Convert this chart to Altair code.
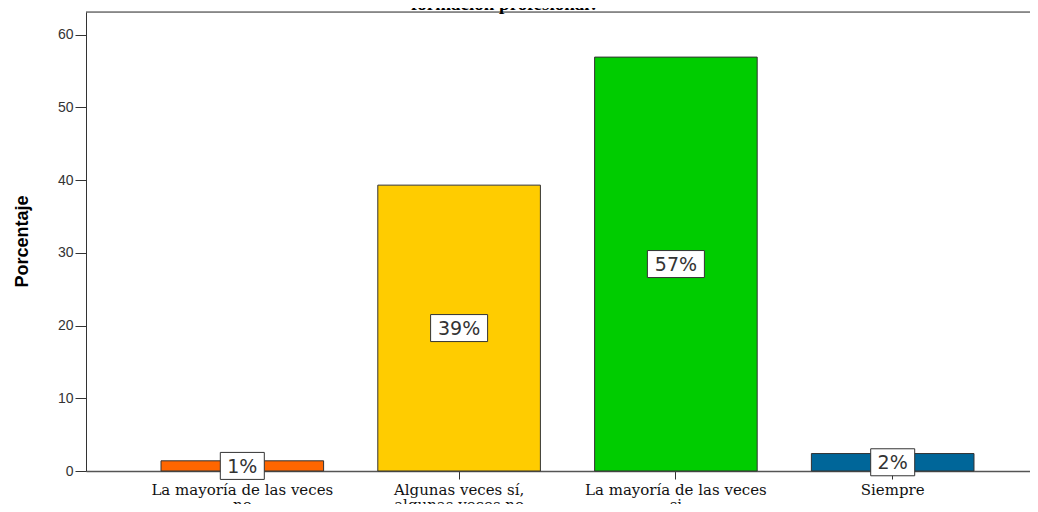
import altair as alt
import pandas as pd

categories = ["La mayoría de las veces|no", "Algunas veces sí,|algunas veces no",
              "La mayoría de las veces|si", "Siempre"]
values = [1.4, 39.3, 56.9, 2.4]
labels = ["1%", "39%", "57%", "2%"]
colors = ["#FF6600", "#FFCC00", "#00CC00", "#006699"]
title_text = "formación profesional?"
y_ticks = [0, 10, 20, 30, 40, 50, 60]

df = pd.DataFrame({"cat": categories, "val": values, "lab": labels})

Y_MAX = 63.1
PLOT_H = 459
PLOT_W = 944
half_box = 13.5 * Y_MAX / PLOT_H

x_enc = alt.X("cat:N", sort=categories,
              scale=alt.Scale(range=[0, 963], paddingInner=0.25, paddingOuter=0.346),
              axis=alt.Axis(title=None, labelExpr="split(datum.label, '|')",
                            labelAngle=0, labelFont="DejaVu Serif", labelFontSize=15,
                            labelColor="#111", labelLineHeight=15, labelPadding=3,
                            labelLimit=400, labelOverlap=False,
                            tickSize=8, tickColor="#333", domainColor="#555",
                            domainWidth=1.5, labelBaseline="top"))
y_scale = alt.Scale(domain=[0, Y_MAX], nice=False)

base = alt.Chart(df)

bars = base.mark_bar(stroke="#333", strokeWidth=1).encode(
    x=x_enc,
    y=alt.Y("val:Q", scale=y_scale,
            axis=alt.Axis(title="Porcentaje", values=y_ticks, grid=False,
                          labelFont="Liberation Sans", labelFontSize=14,
                          labelColor="#333", tickSize=11, tickColor="#333",
                          domainColor="#333", labelPadding=2,
                          titleFont="Liberation Sans", titleFontSize=18,
                          titleFontWeight="bold", titleColor="#000",
                          titleX=-55, titleY=229, titleAngle=270,
                          titleAlign="center", titleBaseline="bottom")),
    color=alt.Color("cat:N", sort=categories,
                    scale=alt.Scale(domain=categories, range=colors), legend=None),
)

box_base = base.transform_calculate(
    lo=f"datum.val/2 - {half_box}", hi=f"datum.val/2 + {half_box}",
    mid="datum.val/2", n="length(datum.lab)")

box2 = box_base.transform_filter("datum.n == 2").mark_bar(
    width=44, fill="white", stroke="#333", strokeWidth=1).encode(
    x=alt.X("cat:N", sort=categories), y=alt.Y("lo:Q", scale=y_scale), y2="hi:Q")
box3 = box_base.transform_filter("datum.n == 3").mark_bar(
    width=57, fill="white", stroke="#333", strokeWidth=1).encode(
    x=alt.X("cat:N", sort=categories), y=alt.Y("lo:Q", scale=y_scale), y2="hi:Q")

txt = box_base.mark_text(font="DejaVu Sans", fontSize=19, color="#333",
                         baseline="middle", align="center", dy=1).encode(
    x=alt.X("cat:N", sort=categories), y=alt.Y("mid:Q", scale=y_scale), text="lab:N")

top_rule = alt.Chart(pd.DataFrame({"a": [0]})).mark_rule(color="#333", strokeWidth=1).encode(
    x=alt.value(0), x2=alt.value(PLOT_W), y=alt.value(0))

title = alt.Chart(pd.DataFrame({"t": [title_text]})).mark_text(
    font="Liberation Serif", fontWeight="bold", fontSize=19, color="#000",
    align="center", baseline="alphabetic").encode(
    x=alt.value(419), y=alt.value(-2), text="t:N")

chart = alt.layer(bars, box2, box3, txt, top_rule, title).properties(
    width=PLOT_W, height=PLOT_H,
    autosize=alt.AutoSizeParams(type="none"),
    padding={"left": 78, "top": 4, "right": 0, "bottom": 33},
).configure_view(fill="#efefef", stroke=None).configure(background="white")

chart.save("out.html", embed_options={"renderer": "svg", "actions": False})
